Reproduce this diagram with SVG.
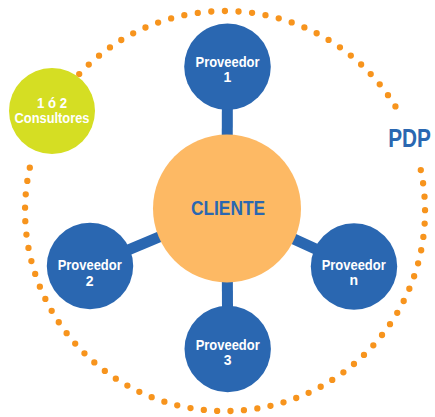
<svg xmlns="http://www.w3.org/2000/svg" width="435" height="417" viewBox="0 0 435 417">
  <style>
    .ring { fill: none; stroke: #f7941d; stroke-width: 6.3; stroke-linecap: round; }
    .link { stroke: #2a67b1; stroke-width: 11; }
    .prov { fill: #2a67b1; }
    .wt { fill: #ffffff; font-family: "Liberation Sans", Arial, sans-serif; font-weight: bold; font-size: 14px; text-anchor: middle; }
    .bt { fill: #2a67b1; font-family: "Liberation Sans", Arial, sans-serif; font-weight: bold; text-anchor: middle; }
  </style>
  <rect width="435" height="417" fill="#ffffff"/>
  <g id="ring">
    <path class="ring" d="M420.8,170.1 A200,200 0 1 1 33.1,154.9" stroke-dasharray="0 13.45"/>
    <path class="ring" d="M79.2,74.1 A200,200 0 0 1 395.5,106.5" stroke-dasharray="0 13.6"/>
  </g>
  <g id="connectors">
    <line class="link" x1="227" y1="208.5" x2="227.5" y2="66.7"/>
    <line class="link" x1="227" y1="208.5" x2="90" y2="266"/>
    <line class="link" x1="227" y1="208.5" x2="354" y2="266.5"/>
    <line class="link" x1="227" y1="208.5" x2="227.7" y2="349"/>
  </g>
  <g id="consultores">
    <circle cx="52" cy="111" r="43" fill="#d5de23"/>
    <text class="wt" x="52" y="107.7" textLength="30" lengthAdjust="spacingAndGlyphs">1 ó 2</text>
    <text class="wt" x="52" y="123.3" textLength="75" lengthAdjust="spacingAndGlyphs">Consultores</text>
  </g>
  <g id="cliente">
    <circle cx="227" cy="208.5" r="74" fill="#fdb964"/>
    <text class="bt" x="228" y="215" font-size="21" textLength="74" lengthAdjust="spacingAndGlyphs">CLIENTE</text>
  </g>
  <g id="proveedor1">
    <circle class="prov" cx="227.5" cy="66.7" r="43.3"/>
    <text class="wt" x="227.5" y="66.7" textLength="64" lengthAdjust="spacingAndGlyphs">Proveedor</text>
    <text class="wt" x="227.5" y="81.7">1</text>
  </g>
  <g id="proveedor2">
    <circle class="prov" cx="90" cy="266" r="43.2"/>
    <text class="wt" x="89.7" y="270.3" textLength="64" lengthAdjust="spacingAndGlyphs">Proveedor</text>
    <text class="wt" x="89.7" y="285.5">2</text>
  </g>
  <g id="proveedorn">
    <circle class="prov" cx="354" cy="266.5" r="43.2"/>
    <text class="wt" x="353.7" y="269.5" textLength="64" lengthAdjust="spacingAndGlyphs">Proveedor</text>
    <text class="wt" x="353.7" y="284.5">n</text>
  </g>
  <g id="proveedor3">
    <circle class="prov" cx="227.7" cy="349" r="43.2"/>
    <text class="wt" x="227.7" y="350" textLength="64" lengthAdjust="spacingAndGlyphs">Proveedor</text>
    <text class="wt" x="227.7" y="364.5">3</text>
  </g>
  <g id="pdp">
    <text class="bt" transform="translate(409.5,147.3) scale(0.8,1)" x="0" y="0" font-size="26">PDP</text>
  </g>
</svg>
